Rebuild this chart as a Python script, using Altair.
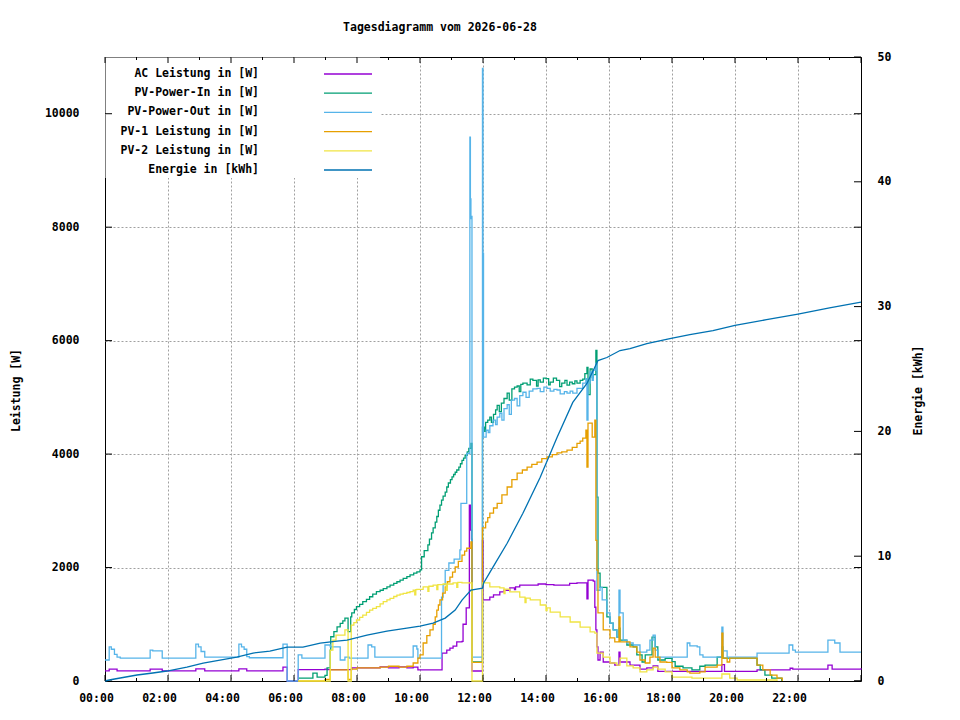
import altair as alt
import pandas as pd

# ---------------- data (time "HH:MM", value) ----------------
ac_leistung = [("00:00",180),("00:08",210),("00:23",180),("01:26",210),("01:49",180),("02:53",215),("03:10",180),
    ("04:15",215),("04:30",180),("05:39",245),("05:47",0),("06:08",200),("06:59",210),("07:03",200),("07:50",230),
    ("08:44",250),("09:00",230),("09:20",250),("09:35",230),("09:47",245),("09:56",195),("10:42",490),("10:51",545),
    ("10:57",580),("11:03",615),("11:10",690),("11:20",700),("11:22",1000),("11:28",1290),("11:34",3100),("11:36",2660),
    ("11:38",2500),("11:39",176),("11:59",2480),("12:00",1430),("12:13",1480),("12:20",1520),("12:32",1570),("12:40",1600),
    ("12:51",1640),("13:00",1610),("13:02",1660),("13:10",1690),("13:30",1690),("13:45",1710),("14:00",1700),("14:15",1690),
    ("14:30",1690),("14:45",1720),("14:59",1730),("15:16",1730),("15:18",1450),("15:20",1780),("15:30",1760),
    ("15:33",1300),("15:35",900),("15:37",600),("15:39",370),("15:43",510),("15:49",335),("16:02",317),("16:11",280),
    ("16:19",510),("16:21",335),("16:40",280),("16:59",210),("17:12",230),("17:24",265),("17:33",170),("19:35",290),
    ("19:40",170),("20:42",195),("21:45",225),("21:50",210),("22:57",280),("23:05",210),("24:00",225)]

pv_power_in = [("06:08",50),("06:36",140),("06:44",70),("06:59",100),("07:03",230),("07:09",545),("07:10",780),("07:16",870),
    ("07:22",955),("07:28",1015),("07:33",1060),("07:37",1110),("07:43",870),("07:48",1130),("07:50",1200),("07:55",1260),
    ("07:59",1310),("08:05",1350),("08:11",1400),("08:18",1440),("08:24",1485),("08:30",1530),("08:37",1575),("08:44",1600),
    ("08:50",1630),("08:57",1660),("09:03",1690),("09:10",1720),("09:16",1750),("09:22",1780),("09:28",1810),("09:35",1840),
    ("09:41",1870),("09:48",1900),("09:54",1925),("10:00",1960),("10:03",2190),("10:08",2300),("10:15",2400),("10:18",2500),
    ("10:22",2610),("10:25",2700),("10:29",2800),("10:32",2900),("10:35",3010),("10:38",3100),("10:41",3190),("10:44",3260),
    ("10:48",3330),("10:51",3420),("10:54",3490),("10:58",3550),("11:01",3600),("11:04",3640),("11:07",3680),("11:10",3720),
    ("11:14",3770),("11:17",3830),("11:20",3890),("11:23",3930),("11:26",3980),("11:30",4040),("11:33",4100),("11:37",4190),
    ("11:39",335),("11:59",4475),("12:03",4400),("12:05",4560),("12:09",4600),("12:13",4650),("12:16",4560),("12:20",4700),
    ("12:24",4780),("12:27",4860),("12:31",4750),("12:35",4900),("12:40",4980),("12:46",5075),("12:50",4950),("12:55",5150),
    ("13:00",5180),("13:05",5200),("13:09",5100),("13:12",5230),("13:16",5250),("13:24",5220),("13:30",5320),("13:35",5300),
    ("13:42",5200),("13:45",5310),("13:49",5270),("13:55",5340),("14:00",5330),("14:05",5220),("14:08",5270),("14:14",5340),
    ("14:20",5300),("14:26",5190),("14:30",5250),("14:36",5300),("14:40",5215),("14:45",5270),("14:50",5240),("14:55",5290),
    ("14:59",5250),("15:05",5300),("15:10",5320),("15:14",5420),("15:18",5530),("15:20",5050),("15:24",5500),("15:28",5350),
    ("15:30",5400),("15:35",5830),("15:37",3240),("15:39",1900),("15:43",1650),("15:56",1130),("16:02",1020),("16:08",900),
    ("16:15",775),("16:19",930),("16:21",720),("16:34",635),("16:46",600),("16:53",460),("17:03",335),("17:09",460),
    ("17:22",775),("17:28",600),("17:33",370),("17:47",400),("18:00",340),("18:06",260),("18:21",230),("18:38",195),
    ("18:53",260),("19:03",280),("19:26",420),("19:35",600),("19:37",405),("20:42",280),("20:48",195),("20:57",105),
    ("21:10",50),("21:29",0)]

pv_power_out = [("00:00",370),("00:08",600),("00:12",560),("00:18",470),("00:23",420),("00:29",405),("01:26",545),("01:31",530),
    ("01:49",405),("02:53",650),("02:58",600),("03:03",520),("03:10",420),("04:15",650),("04:20",600),("04:25",560),
    ("04:30",430),("04:35",410),("05:39",650),("05:47",0),("06:08",460),("06:15",405),("06:59",635),("07:09",600),
    ("07:28",370),("07:37",420),("07:45",405),("08:21",635),("08:28",600),("08:34",420),("09:47",617),("09:54",564),
    ("09:56",405),("10:41",1480),("10:44",1700),("10:48",1950),("10:55",2080),("11:05",2150),("11:16",2310),("11:18",3130),
    ("11:29",4010),("11:35",9585),("11:36",8500),("11:37",8150),("11:38",8190),("11:39",420),
    ("11:59",10800),("12:00",7540),("12:01",4300),("12:06",4420),("12:10",4380),("12:13",4500),("12:19",4600),("12:24",4520),
    ("12:27",4650),("12:32",4720),("12:36",4600),("12:40",4800),("12:46",4870),("12:50",4700),("12:54",4950),("13:00",4980),
    ("13:05",4850),("13:10",5030),("13:16",5090),("13:22",5000),("13:28",5110),("13:35",5150),("13:43",5160),("13:49",5100),
    ("13:56",5180),("14:02",5160),("14:08",5110),("14:15",5140),("14:21",5130),("14:27",5060),("14:35",5100),("14:40",5075),
    ("14:46",5110),("14:51",5075),("14:59",5160),("15:05",5160),("15:10",5250),("15:16",5330),("15:18",4600),("15:20",5250),
    ("15:24",5450),("15:28",5300),("15:30",5480),("15:35",5600),("15:37",1600),("15:43",1650),("15:47",1430),("15:56",1200),
    ("16:02",1020),("16:08",900),("16:15",775),("16:19",1600),("16:21",1200),("16:27",720),("16:34",670),("16:46",635),
    ("16:59",510),("17:12",545),("17:18",720),("17:24",810),("17:28",545),("17:33",405),("17:37",420),("18:29",670),
    ("18:34",620),("18:48",600),("18:53",460),("18:59",420),("19:35",950),("19:37",530),("19:45",420),("20:42",490),
    ("21:43",635),("21:50",545),("21:55",510),("22:57",720),("23:10",670),("23:20",510),("24:00",510)]

pv1_leistung = [("06:08",0),("06:59",30),("07:09",195),("07:43",30),("07:49",210),("08:00",230),("08:44",245),("09:00",260),
    ("09:20",245),("09:35",260),("09:47",317),("09:56",405),("10:00",460),("10:06",670),("10:13",800),("10:19",900),
    ("10:25",1000),("10:29",1130),("10:32",1250),("10:35",1340),("10:38",1430),("10:43",1550),("10:48",1660),("10:52",1750),
    ("10:57",1830),("11:02",1920),("11:07",2010),("11:13",2110),("11:20",2220),("11:25",2290),("11:29",2340),("11:37",2450),
    ("11:39",330),("11:59",2700),("12:05",2800),("12:09",2880),("12:13",2960),("12:20",3050),("12:27",3130),("12:36",3280),
    ("12:46",3420),("12:55",3550),("13:05",3665),("13:15",3720),("13:24",3770),("13:33",3820),("13:43",3860),("13:52",3920),
    ("14:02",3950),("14:12",3990),("14:21",4020),("14:30",4040),("14:40",4070),("14:50",4120),("14:59",4190),("15:05",4230),
    ("15:10",4280),("15:16",4420),("15:18",3770),("15:20",4545),("15:28",4300),("15:33",4600),("15:35",2480),("15:37",1955),
    ("15:39",1200),("15:49",900),("16:02",760),("16:11",690),("16:19",1130),("16:21",690),("16:40",600),("16:53",510),
    ("16:59",370),("17:09",317),("17:18",420),("17:24",580),("17:28",420),("17:37",335),("17:50",330),("18:00",230),
    ("18:15",195),("18:29",160),("18:34",140),("18:53",160),("19:03",245),("19:26",280),("19:35",845),("19:37",405),
    ("19:45",335),("19:50",405),("20:42",280),("20:53",195),("21:07",105),("21:20",50),("21:30",0)]

pv2_leistung = [("06:08",0),("07:09",545),("07:14",720),("07:20",810),("07:37",900),("07:43",0),("07:49",985),("07:54",1030),
    ("07:59",1075),("08:05",1120),("08:11",1160),("08:18",1210),("08:24",1250),("08:30",1280),("08:37",1310),("08:44",1360),
    ("08:50",1400),("08:57",1430),("09:03",1455),("09:10",1490),("09:16",1515),("09:22",1530),("09:28",1545),("09:35",1560),
    ("09:41",1575),("09:47",1600),("09:50",1520),("09:52",1610),("09:54",1615),("10:06",1660),("10:15",1580),("10:17",1670),
    ("10:25",1690),("10:32",1610),("10:34",1700),("10:44",1710),("10:50",1600),("10:52",1710),("11:03",1730),("11:10",1650),
    ("11:12",1740),("11:20",1730),("11:39",0),("11:59",1730),("12:13",1660),("12:32",1640),("12:40",1540),("12:42",1620),
    ("12:51",1570),("13:10",1480),("13:20",1380),("13:22",1460),("13:30",1430),("13:49",1340),("14:00",1240),("14:02",1290),
    ("14:08",1215),("14:27",1130),("14:46",1040),("15:05",950),("15:24",865),("15:33",845),("15:37",490),("15:49",420),
    ("16:02",317),("16:15",280),("16:21",405),("16:34",265),("16:46",230),("16:59",160),("17:12",195),("17:24",245),
    ("17:33",210),("17:47",160),("18:00",70),("18:38",50),("19:35",123),("19:50",50),("20:04",18),("21:20",0)]

energie_kwh = [("00:00",0),("00:08",0.08),("00:29",0.24),("01:01",0.48),("01:31",0.64),("01:58",0.8),("02:36",1.12),
    ("03:07",1.44),("03:39",1.68),("04:11",1.92),("04:42",2.24),("05:14",2.4),("05:47",2.72),("06:17",2.72),("06:50",3.04),
    ("07:22",3.2),("07:41",3.28),("08:19",3.68),("08:57",4.0),("09:35",4.24),("10:00",4.40),("10:25",4.64),("10:48",5.04),
    ("11:07",5.68),("11:20",6.48),("11:37",7.28),("11:59",7.44),("12:01",7.84),("12:19",9.12),
    ("12:46",11.04),("13:16",13.44),("13:49",16.32),("14:21",19.52),("14:51",22.32),("15:18",23.84),("15:30",24.88),
    ("15:39",25.68),("15:56",25.92),("16:21",26.48),("16:40",26.64),("17:12",27.04),("17:56",27.44),("18:34",27.76),
    ("19:18",28.08),("20:00",28.5),("21:00",28.95),("22:00",29.4),("23:00",29.9),("24:00",30.35)]

names = ["AC Leistung in [W]", "PV-Power-In in [W]", "PV-Power-Out in [W]",
         "PV-1 Leistung in [W]", "PV-2 Leistung in [W]", "Energie in [kWh]"]
colors = ["#9400d3", "#009e73", "#56b4e9", "#e69f00", "#f0e442", "#0072b2"]

x_label_hours = [0, 2, 4, 6, 8, 10, 12, 14, 16, 18, 20, 22]
x_major_hours = [0, 2, 4, 6, 8, 10, 12, 14, 16, 18, 20, 22, 24]
x_minor_hours = [1, 3, 5, 7, 9, 11, 13, 15, 17, 19, 21, 23]
power_ticks = [0, 2000, 4000, 6000, 8000, 10000]
energy_ticks = [0, 10, 20, 30, 40, 50]

TITLE = "Tagesdiagramm vom 2026-06-28"
FONT = "DejaVu Sans Mono"
FS = 11.5
W, H = 756, 624
LW = 1.3


def hours(s):
    h, m = s.split(":")
    return int(h) + int(m) / 60.0


def frame(name, pts, field):
    return pd.DataFrame({"series": name,
                         "h": [hours(t) for t, _ in pts],
                         field: [v for _, v in pts]})


x_scale = alt.Scale(domain=[0, 24], nice=False, zero=False)
p_scale = alt.Scale(domain=[0, 11000], nice=False)
e_scale = alt.Scale(domain=[0, 50], nice=False)
c_scale = alt.Scale(domain=names, range=colors)
grid_op = {"condition": {"test": "datum.value == 0", "value": 0}, "value": 1}

x_axis = alt.Axis(values=x_label_hours, title=None,
                  labelExpr="(datum.value < 10 ? '0' : '') + datum.value + ':00'",
                  grid=True, gridOpacity=grid_op, labelPadding=11, labelOffset=-9,
                  labelFlush=False, ticks=False, tickSize=0, domain=False)
p_axis = alt.Axis(values=power_ticks, title="Leistung [W]", titleAngle=270, titleX=-89, titleY=333,
                  titleBaseline="middle", titleAlign="center", labelPadding=26, grid=True,
                  gridOpacity=grid_op, ticks=False, tickSize=0, domain=False, format="d")
e_axis = alt.Axis(orient="right", values=energy_ticks, title="Energie [kWh]", titleAngle=270,
                  titleX=57, titleY=333, titleBaseline="middle", titleAlign="center",
                  labelPadding=16, grid=False, ticks=False, tickSize=0, domain=False, format="d")

X = alt.X("h:Q", scale=x_scale, axis=x_axis)
YP = alt.Y("w:Q", scale=p_scale, axis=p_axis)
YE = alt.Y("kwh:Q", scale=e_scale, axis=e_axis)
COL = alt.Color("series:N", scale=c_scale, legend=None)


def power_line(name, pts):
    return alt.Chart(frame(name, pts, "w")).mark_line(
        interpolate="step-after", strokeWidth=LW).encode(x=X, y=YP, color=COL)


ptick_df = pd.DataFrame({"w": power_ticks})
ptick_left = alt.Chart(ptick_df).mark_rule(color="black").encode(
    y=YP, x=alt.value(0), x2=alt.value(7))
ptick_right = alt.Chart(ptick_df).mark_rule(color="black").encode(
    y=YP, x=alt.value(W - 7), x2=alt.value(W))

power = alt.layer(
    power_line(names[0], ac_leistung),
    power_line(names[1], pv_power_in),
    power_line(names[2], pv_power_out),
    power_line(names[3], pv1_leistung),
    power_line(names[4], pv2_leistung),
    ptick_left, ptick_right)

energy_line = alt.Chart(frame(names[5], energie_kwh, "kwh")).mark_line(
    strokeWidth=LW).encode(x=X, y=YE, color=COL)
etick = alt.Chart(pd.DataFrame({"kwh": energy_ticks})).mark_rule(color="black").encode(
    y=YE, x=alt.value(W - 7), x2=alt.value(W))
energy = alt.layer(energy_line, etick)

# key (gnuplot style: text then sample line, opaque box)
key_box = alt.Chart(pd.DataFrame({"k": [0]})).mark_rect(color="white").encode(
    x=alt.value(0.5), x2=alt.value(275), y=alt.value(0.5), y2=alt.value(121))
key_df = pd.DataFrame({"series": names})
KY = alt.Y("series:N", scale=alt.Scale(type="point", domain=names, range=[17, 113], padding=0), axis=None)
key_lines = alt.Chart(key_df).mark_rule(strokeWidth=LW).encode(
    x=alt.value(219), x2=alt.value(267), y=KY, color=COL)
key_text = alt.Chart(key_df).mark_text(align="right", baseline="middle", font=FONT, fontSize=FS,
                                       fontWeight="bold", color="black").encode(
    x=alt.value(154), y=KY, text="series:N")
key = alt.layer(key_lines, key_text)

xmaj_df = pd.DataFrame({"h": x_major_hours})
xmin_df = pd.DataFrame({"h": x_minor_hours})
xt_bot = alt.Chart(xmaj_df).mark_rule(color="black").encode(x=X, y=alt.value(H - 6), y2=alt.value(H))
xt_top = alt.Chart(xmaj_df).mark_rule(color="black").encode(x=X, y=alt.value(0), y2=alt.value(6))
xm_bot = alt.Chart(xmin_df).mark_rule(color="black").encode(x=X, y=alt.value(H - 3), y2=alt.value(H))
xm_top = alt.Chart(xmin_df).mark_rule(color="black").encode(x=X, y=alt.value(0), y2=alt.value(3))

chart = alt.layer(
    key_box, power, energy, key, xt_bot, xt_top, xm_bot, xm_top
).resolve_scale(
    y="independent"
).properties(
    width=W, height=H,
    autosize=alt.AutoSizeParams(type="none"),
    padding={"left": 97, "top": 49, "right": 80, "bottom": 30},
    title=alt.TitleParams(TITLE, font=FONT, fontSize=FS, fontWeight="bold", color="black",
                          anchor="middle", dx=-43, offset=9, baseline="alphabetic"),
).configure_axis(
    labelFont=FONT, labelFontSize=FS, labelFontWeight="bold", labelColor="black",
    titleFont=FONT, titleFontSize=FS, titleFontWeight="bold", titleColor="black",
    gridColor="#a0a0a0", gridDash=[2, 2], gridWidth=1,
).configure_view(stroke="black", strokeWidth=1)

chart.save("out.html", embed_options={"renderer": "svg", "actions": False})
